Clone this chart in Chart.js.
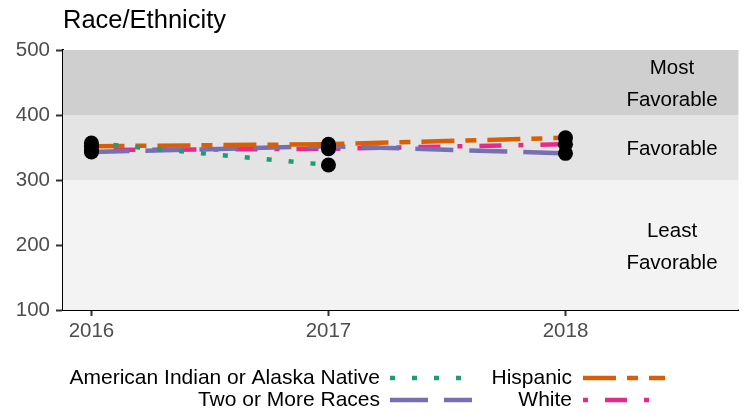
<!DOCTYPE html>
<html>
<head>
<meta charset="utf-8">
<script src="https://cdn.jsdelivr.net/npm/chart.js@4"></script>
<style>
  html, body { margin: 0; padding: 0; background: #fff; }
  #wrap { width: 746px; height: 413px; }
</style>
</head>
<body>
<div id="wrap"><canvas id="c" width="746" height="413"></canvas></div>
<script>
const FONT = '"Liberation Sans", Arial, sans-serif';

// data
const years = [2016, 2017, 2018];
const aian = [357, 323, null];
const hispanic = [352, 355, 365];
const twoOrMore = [343, 352, 341];
const white = [346, 348, 355];

const seriesNames = ['American Indian or Alaska Native', 'Hispanic', 'Two or More Races', 'White'];
const yTicks = [100, 200, 300, 400, 500];

// favorability bands: [from, to, label lines]
const bandFrom = [100, 300, 400];
const bandTo = [300, 400, 500];
const bandLabels = [['Least', 'Favorable'], ['Favorable'], ['Most', 'Favorable']];
const bandColors = ['#f3f3f3', '#e4e4e4', '#cfcfcf'];

const colors = ['#1b9e77', '#d95f02', '#7570b3', '#e7298a'];
// dotted, twodash, longdash, dotdash
const dashes = [[5, 17], [33, 11, 11, 11], [38, 16], [5, 17, 22, 17]];

const allValues = [aian, hispanic, twoOrMore, white];

function toPoints(vals) {
  return years.map((y, i) => ({ x: y, y: vals[i] })).filter(p => p.y !== null);
}

const lineSets = allValues.map((vals, i) => ({
  label: seriesNames[i],
  data: toPoints(vals),
  borderColor: colors[i],
  borderWidth: 4.5,
  borderDash: dashes[i],
  borderCapStyle: 'butt',
  pointRadius: 0,
  fill: false,
  tension: 0,
  order: 1
}));

const dotSet = {
  label: 'points',
  data: allValues.flatMap(v => toPoints(v)),
  showLine: false,
  pointRadius: 7.5,
  pointBackgroundColor: '#000',
  pointBorderColor: '#000',
  pointBorderWidth: 0,
  order: 0
};

const bands = {
  id: 'bands',
  beforeDatasetsDraw(chart) {
    const { ctx, chartArea: a, scales: { y } } = chart;
    ctx.save();
    bandFrom.forEach((f, i) => {
      const top = y.getPixelForValue(bandTo[i]);
      const bot = y.getPixelForValue(f);
      ctx.fillStyle = bandColors[i];
      ctx.fillRect(a.left, top, a.right - a.left, bot - top);
    });
    // labels
    ctx.fillStyle = '#000';
    ctx.font = '20.5px ' + FONT;
    ctx.textAlign = 'center';
    ctx.textBaseline = 'middle';
    bandFrom.forEach((f, i) => {
      const mid = (y.getPixelForValue(f) + y.getPixelForValue(bandTo[i])) / 2;
      const lines = bandLabels[i];
      lines.forEach((t, k) => {
        ctx.fillText(t, 672, mid + 2 + (k - (lines.length - 1) / 2) * 32);
      });
    });
    ctx.restore();
  }
};

const decorations = {
  id: 'decorations',
  afterDraw(chart) {
    const { ctx } = chart;
    ctx.save();
    ctx.fillStyle = '#000';
    ctx.font = '25.5px ' + FONT;
    ctx.textAlign = 'left';
    ctx.textBaseline = 'middle';
    ctx.fillText('Race/Ethnicity', 63, 21);

    // legend, text first then key
    const cols = [[380, 390], [572, 583]];
    const rows = [378, 400];
    ctx.font = '21px ' + FONT;
    ctx.textAlign = 'right';
    seriesNames.forEach((name, idx) => {
      const c = cols[idx % 2];
      const r = rows[Math.floor(idx / 2)];
      ctx.fillStyle = '#000';
      ctx.fillText(name, c[0], r);
      ctx.strokeStyle = colors[idx];
      ctx.lineWidth = 4.5;
      ctx.setLineDash(dashes[idx]);
      ctx.beginPath();
      ctx.moveTo(c[1], r);
      ctx.lineTo(c[1] + 82, r);
      ctx.stroke();
    });
    ctx.restore();
  }
};

new Chart(document.getElementById('c'), {
  type: 'line',
  data: { datasets: lineSets.concat([dotSet]) },
  options: {
    responsive: false,
    animation: false,
    layout: { padding: { top: 50, right: 6, bottom: 73, left: 0 } },
    plugins: { legend: { display: false }, tooltip: { enabled: false }, title: { display: false } },
    scales: {
      x: {
        type: 'linear',
        min: 2015.88,
        max: 2018.73,
        afterBuildTicks(s) { s.ticks = years.map(v => ({ value: v })); },
        afterFit(s) { s.height = 30; },
        border: { display: true, color: '#000', width: 2 },
        grid: { drawOnChartArea: false, drawTicks: true, tickLength: 6, tickColor: '#333', tickWidth: 2 },
        ticks: { color: '#4d4d4d', font: { family: FONT, size: 20.5 }, padding: 3, callback: v => String(v), maxRotation: 0 }
      },
      y: {
        min: 100,
        max: 500,
        afterBuildTicks(s) { s.ticks = yTicks.map(v => ({ value: v })); },
        afterFit(s) { s.width = 63; },
        border: { display: true, color: '#000', width: 2 },
        grid: { drawOnChartArea: false, drawTicks: true, tickLength: 7, tickColor: '#333', tickWidth: 2 },
        ticks: { color: '#4d4d4d', font: { family: FONT, size: 20.5 }, padding: 6 }
      }
    }
  },
  plugins: [bands, decorations]
});
</script>
</body>
</html>
